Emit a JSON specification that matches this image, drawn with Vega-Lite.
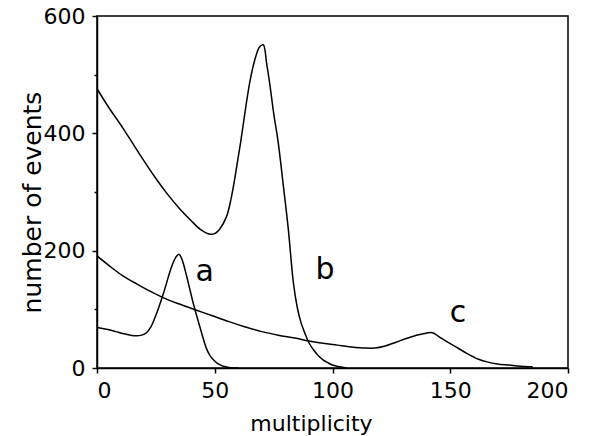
{
  "$schema": "https://vega.github.io/schema/vega-lite/v6.json",
  "width": 471,
  "height": 352,
  "autosize": "none",
  "padding": {"left": 97, "top": 16, "right": 23, "bottom": 68},
  "background": "white",
  "config": {
    "view": {"stroke": "black", "strokeWidth": 1.5},
    "axis": {
      "grid": false,
      "domainColor": "black",
      "domainWidth": 1.5,
      "tickColor": "black",
      "tickWidth": 1.5,
      "labelFont": "DejaVu Sans",
      "labelFontSize": 22,
      "labelColor": "black",
      "titleFont": "DejaVu Sans",
      "titleColor": "black",
      "titleFontWeight": "normal"
    }
  },
  "datasets": {
    "curves": [
      {"curve": "a", "x": 0, "y": 69}, {"curve": "a", "x": 4, "y": 66}, {"curve": "a", "x": 8, "y": 62}, {"curve": "a", "x": 12, "y": 58}, {"curve": "a", "x": 16, "y": 55}, {"curve": "a", "x": 19, "y": 56}, {"curve": "a", "x": 21, "y": 60}, {"curve": "a", "x": 23, "y": 71}, {"curve": "a", "x": 25.3, "y": 93}, {"curve": "a", "x": 28.2, "y": 127}, {"curve": "a", "x": 31.7, "y": 173}, {"curve": "a", "x": 33.5, "y": 189}, {"curve": "a", "x": 34.8, "y": 194}, {"curve": "a", "x": 36, "y": 186}, {"curve": "a", "x": 38.1, "y": 156}, {"curve": "a", "x": 40.9, "y": 110}, {"curve": "a", "x": 43.7, "y": 70}, {"curve": "a", "x": 46.5, "y": 33}, {"curve": "a", "x": 48, "y": 21}, {"curve": "a", "x": 49.4, "y": 14}, {"curve": "a", "x": 51.5, "y": 7}, {"curve": "a", "x": 53.6, "y": 3}, {"curve": "a", "x": 56, "y": 1}, {"curve": "a", "x": 60, "y": 0},
      {"curve": "b", "x": 0, "y": 476}, {"curve": "b", "x": 5, "y": 444}, {"curve": "b", "x": 11, "y": 409}, {"curve": "b", "x": 18, "y": 365}, {"curve": "b", "x": 25, "y": 323}, {"curve": "b", "x": 30, "y": 296}, {"curve": "b", "x": 35, "y": 272}, {"curve": "b", "x": 40, "y": 251}, {"curve": "b", "x": 44, "y": 236}, {"curve": "b", "x": 48, "y": 228}, {"curve": "b", "x": 50, "y": 229}, {"curve": "b", "x": 52, "y": 236}, {"curve": "b", "x": 55, "y": 258}, {"curve": "b", "x": 57, "y": 290}, {"curve": "b", "x": 59, "y": 335}, {"curve": "b", "x": 61, "y": 385}, {"curve": "b", "x": 63, "y": 440}, {"curve": "b", "x": 65, "y": 490}, {"curve": "b", "x": 67, "y": 525}, {"curve": "b", "x": 69, "y": 547}, {"curve": "b", "x": 70.6, "y": 551}, {"curve": "b", "x": 72, "y": 520}, {"curve": "b", "x": 73.5, "y": 480}, {"curve": "b", "x": 75, "y": 435}, {"curve": "b", "x": 77, "y": 383}, {"curve": "b", "x": 79, "y": 315}, {"curve": "b", "x": 81.2, "y": 238}, {"curve": "b", "x": 83.4, "y": 145}, {"curve": "b", "x": 85, "y": 104}, {"curve": "b", "x": 86.5, "y": 79}, {"curve": "b", "x": 88.3, "y": 59}, {"curve": "b", "x": 90, "y": 43}, {"curve": "b", "x": 91.9, "y": 31}, {"curve": "b", "x": 94, "y": 21}, {"curve": "b", "x": 96, "y": 14}, {"curve": "b", "x": 98, "y": 9}, {"curve": "b", "x": 100, "y": 5}, {"curve": "b", "x": 103, "y": 2}, {"curve": "b", "x": 106, "y": 0},
      {"curve": "c", "x": 0, "y": 191}, {"curve": "c", "x": 5, "y": 175}, {"curve": "c", "x": 11, "y": 157}, {"curve": "c", "x": 17, "y": 143}, {"curve": "c", "x": 22, "y": 132}, {"curve": "c", "x": 28, "y": 120}, {"curve": "c", "x": 35, "y": 109}, {"curve": "c", "x": 42, "y": 99}, {"curve": "c", "x": 49, "y": 89}, {"curve": "c", "x": 56, "y": 79}, {"curve": "c", "x": 63, "y": 70}, {"curve": "c", "x": 70, "y": 62}, {"curve": "c", "x": 77, "y": 56}, {"curve": "c", "x": 84, "y": 51}, {"curve": "c", "x": 90, "y": 46}, {"curve": "c", "x": 96, "y": 42}, {"curve": "c", "x": 102, "y": 39}, {"curve": "c", "x": 108, "y": 36}, {"curve": "c", "x": 114, "y": 34}, {"curve": "c", "x": 118, "y": 34}, {"curve": "c", "x": 122, "y": 37}, {"curve": "c", "x": 127, "y": 44}, {"curve": "c", "x": 131, "y": 50}, {"curve": "c", "x": 135, "y": 55}, {"curve": "c", "x": 139, "y": 59}, {"curve": "c", "x": 142.5, "y": 60}, {"curve": "c", "x": 145, "y": 54}, {"curve": "c", "x": 148.5, "y": 45}, {"curve": "c", "x": 152, "y": 37}, {"curve": "c", "x": 157, "y": 25}, {"curve": "c", "x": 162, "y": 15}, {"curve": "c", "x": 166, "y": 10}, {"curve": "c", "x": 170, "y": 7}, {"curve": "c", "x": 175, "y": 5}, {"curve": "c", "x": 180, "y": 3}, {"curve": "c", "x": 185, "y": 2}
    ],
    "labels": [
      {"label": "a", "x": 45.7, "y": 148},
      {"label": "b", "x": 96.8, "y": 152},
      {"label": "c", "x": 153.3, "y": 78}
    ]
  },
  "layer": [
    {
      "data": {"name": "curves"},
      "mark": {"type": "line", "color": "black", "strokeWidth": 1.5, "interpolate": "catmull-rom", "clip": true},
      "encoding": {
        "x": {
          "field": "x", "type": "quantitative",
          "scale": {"domain": [0, 200], "nice": false},
          "axis": {
            "values": [0, 50, 100, 150, 200],
            "tickSize": 5,
            "labelPadding": 7,
            "title": "multiplicity",
            "titleFontSize": 22,
            "titleX": 214,
            "titleY": 62,
            "titleBaseline": "alphabetic",
            "titleAlign": "center"
          }
        },
        "y": {
          "field": "y", "type": "quantitative",
          "scale": {"domain": [0, 600], "nice": false},
          "axis": {
            "values": [0, 200, 400, 600],
            "tickSize": 5,
            "labelPadding": 7,
            "title": "number of events",
            "titleFontSize": 25,
            "titleAngle": 270,
            "titleX": -57,
            "titleY": 186,
            "titleBaseline": "alphabetic",
            "titleAlign": "center"
          }
        },
        "detail": {"field": "curve"}
      }
    },
    {
      "data": {"name": "labels"},
      "mark": {"type": "text", "font": "DejaVu Sans", "fontSize": 30, "color": "black", "baseline": "alphabetic", "align": "center"},
      "encoding": {
        "x": {"field": "x", "type": "quantitative"},
        "y": {
          "field": "y", "type": "quantitative",
          "axis": {
            "orient": "left",
            "values": [100, 300, 500],
            "labels": false,
            "title": null,
            "domain": false,
            "tickSize": 3
          }
        },
        "text": {"field": "label"}
      }
    }
  ],
  "resolve": {"axis": {"y": "independent"}}
}
